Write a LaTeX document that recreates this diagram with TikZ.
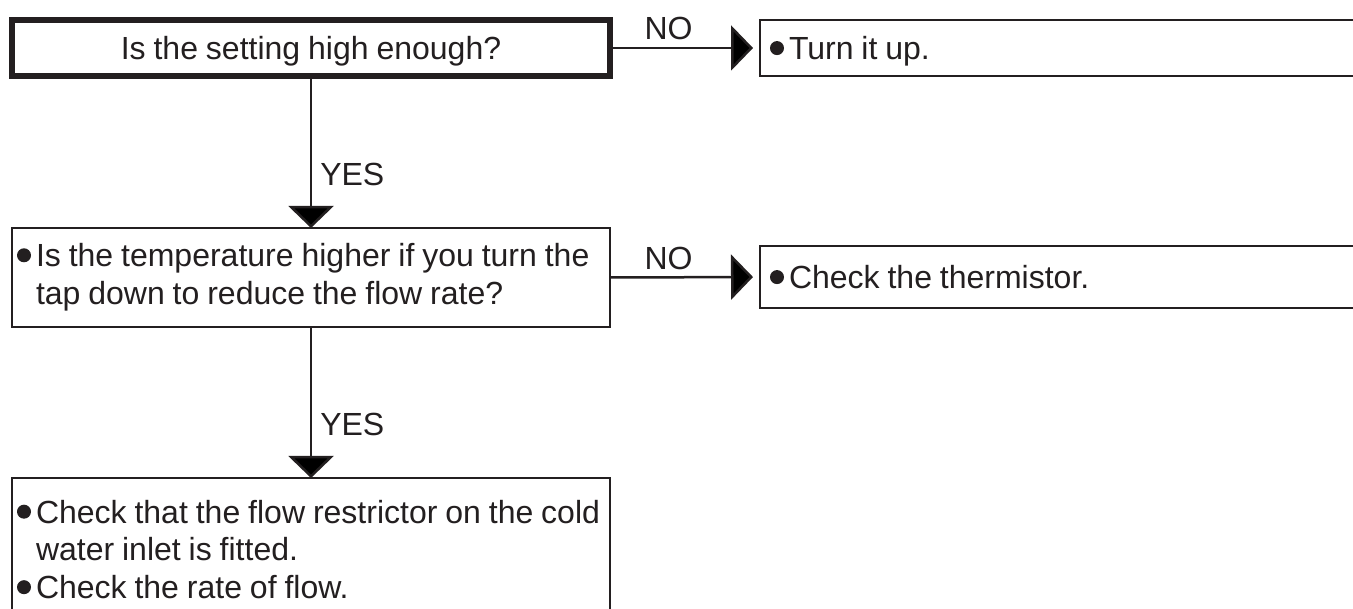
\documentclass[tikz,border=0pt]{standalone}
\usepackage{fontspec}
\setmainfont{Liberation Sans}
\usetikzlibrary{arrows.meta}
\definecolor{ink}{RGB}{35,31,32}
\newcommand\bl{\tikz[baseline=0pt]\fill[ink] (7pt,11.5pt) circle[radius=7pt];\hspace{5pt}}
\newcommand\tightsp{\spaceskip=7.9pt plus 2pt minus 1pt\relax}
\tikzset{
  txt/.style={font=\fontsize{32}{38}\selectfont\tightsp, text=ink},
  thickbox/.style={draw=ink, line width=5.5pt, outer sep=0pt, inner sep=0pt, txt, text depth=0pt},
  thinbox/.style={draw=ink, line width=2.5pt, outer sep=0pt, txt, align=left},
  conn/.style={draw=ink, line width=2.5pt, -{Triangle[length=22pt,width=45pt]}},
  lab/.style={txt, inner sep=0pt}
}
\begin{document}
\begin{tikzpicture}[x=1pt,y=-1pt]
\clip (0,0) rectangle (1353,609);
\fill[white] (0,0) rectangle (1353,609);
% left column
\node[thickbox, minimum width=598pt, minimum height=56pt] (b1) at (311,48) {Is the setting high enough?};
\node[thinbox, minimum height=99pt, text width=588pt, inner xsep=5pt, inner ysep=0pt] (b2) at (311,277.5)
  {\fontsize{32}{42}\selectfont\tightsp\mbox{\bl Is the temperature higher if you turn the}\\\mbox{\hspace*{19pt}tap down to reduce the flow rate?}};
\node[thinbox, anchor=north, text width=588pt, inner xsep=5pt, inner ysep=22pt] (b3) at (311,478)
  {\fontsize{32}{37.5}\selectfont\tightsp\mbox{\bl Check that the flow restrictor on the cold}\\\mbox{\hspace*{19pt}water inlet is fitted.}\\\mbox{\bl Check the rate of flow.}};
% right column
\node[thinbox, anchor=west, minimum height=56pt, text width=620pt, inner xsep=10pt, inner ysep=0pt, text depth=0pt] (r1) at (760,48) {\tightsp\mbox{\bl Turn it up.}};
\node[thinbox, anchor=west, minimum height=62pt, text width=620pt, inner xsep=10pt, inner ysep=0pt, text depth=0pt] (r2) at (760,277) {\tightsp\mbox{\bl Check the thermistor.}};
% connectors
\draw[conn] (b1.south) -- node[lab, pos=0.72, anchor=base west, xshift=8pt] {YES} (b2.north);
\draw[conn] (b2.south) -- node[lab, pos=0.72, anchor=base west, xshift=8pt] {YES} (b3.north);
\draw[conn, shorten >=7pt] (b1.east) -- node[lab, pos=0.39, anchor=base, yshift=8pt] {NO} (r1.west);
\draw[conn, shorten >=7pt] (b2.east) -- node[lab, pos=0.39, anchor=base, yshift=8pt] {NO} (r2.west);
\end{tikzpicture}
\end{document}
